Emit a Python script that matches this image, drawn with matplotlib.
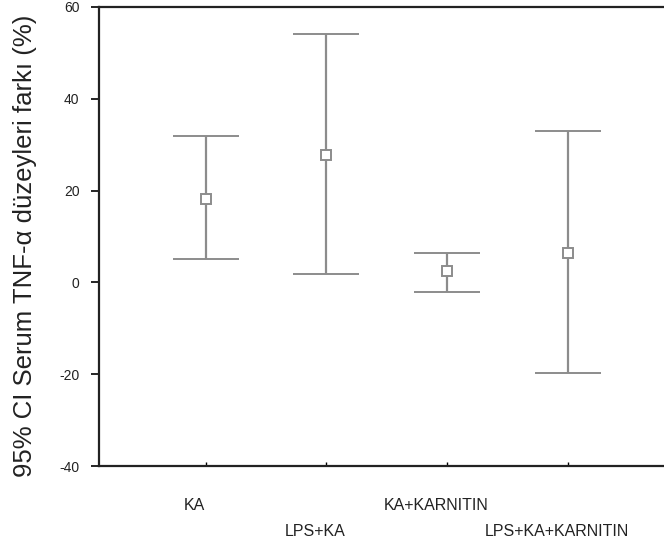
import matplotlib
matplotlib.use("Agg")
import matplotlib.pyplot as plt
import numpy as np

plt.rcParams['font.family'] = ['Liberation Sans', 'DejaVu Sans']

groups = ["KA", "LPS+KA", "KA+KARNITIN", "LPS+KA+KARNITIN"]
means = [18.2, 27.8, 2.5, 6.4]
upper = [32.0, 54.2, 6.5, 33.0]
lower = [5.0, 1.8, -2.1, -19.7]
yticks = [-40, -20, 0, 20, 40, 60]

x = np.arange(1, len(groups) + 1)
means = np.array(means)
err = np.vstack([means - np.array(lower), np.array(upper) - means])

fig = plt.figure(figsize=(6.64, 5.46), dpi=100)
ax = fig.add_axes([99 / 664, 80 / 546, 1.0 - 99 / 664 + 0.01, 459 / 546])

ax.errorbar(x, means, yerr=err, fmt='s', color='#8c8c8c', ecolor='#8c8c8c',
            elinewidth=1.6, capsize=24, capthick=1.6, markersize=7,
            markerfacecolor='white', markeredgewidth=1.4)

ax.set_xlim(0.117, 4.85)
ax.set_ylim(-40, 60)
ax.set_yticks(yticks)
ax.set_yticklabels([str(v) for v in yticks], fontsize=10, color='#222222')
ax.tick_params(axis='y', length=6, width=1.2, pad=8)

ax.set_xticks(x)
ax.set_xticklabels([])
ax.tick_params(axis='x', direction='in', length=3, width=1)
for i, g in enumerate(groups):
    yoff = -0.085 if i % 2 == 0 else -0.143
    ax.text(x[i] - 0.09, yoff, g, transform=ax.get_xaxis_transform(),
            ha='center', va='center', fontsize=11.5, color='#222222')

ax.set_ylabel("95% CI Serum TNF-α düzeyleri farkı (%)", fontsize=18.5,
              color='#222222')
ax.yaxis.set_label_coords(-0.108, 0.479)

for s in ['left', 'top', 'bottom']:
    ax.spines[s].set_linewidth(1.6)
    ax.spines[s].set_color('#222222')
ax.spines['right'].set_visible(False)

fig.savefig("out.png", dpi=100)
